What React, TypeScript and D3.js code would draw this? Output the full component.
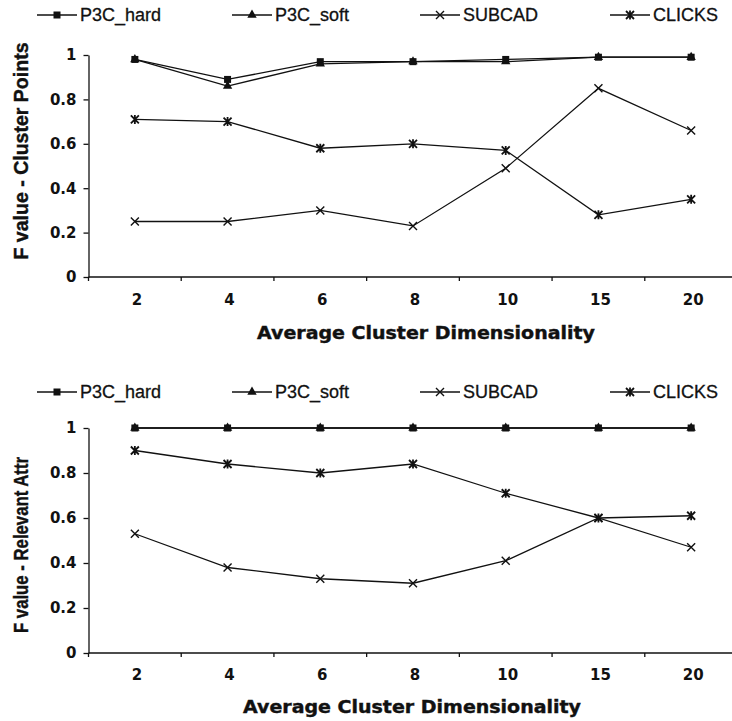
import { useEffect, useRef } from 'react';
import * as d3 from 'd3';

// x categories (average cluster dimensionality)
const categories = ['2', '4', '6', '8', '10', '15', '20'];
const yTicks = [0, 0.2, 0.4, 0.6, 0.8, 1];
const seriesNames = ['P3C_hard', 'P3C_soft', 'SUBCAD', 'CLICKS'];
const markerTypes = ['square', 'triangle', 'cross', 'asterisk'];

// F value - Cluster Points
const hardPoints = [0.98, 0.89, 0.97, 0.97, 0.98, 0.99, 0.99];
const softPoints = [0.98, 0.86, 0.96, 0.97, 0.97, 0.99, 0.99];
const subcadPoints = [0.25, 0.25, 0.3, 0.23, 0.49, 0.85, 0.66];
const clicksPoints = [0.71, 0.7, 0.58, 0.6, 0.57, 0.28, 0.35];

// F value - Relevant Attr
const hardAttr = [1, 1, 1, 1, 1, 1, 1];
const softAttr = [1, 1, 1, 1, 1, 1, 1];
const subcadAttr = [0.53, 0.38, 0.33, 0.31, 0.41, 0.6, 0.47];
const clicksAttr = [0.9, 0.84, 0.8, 0.84, 0.71, 0.6, 0.61];

const BOLD_FONT = '"DejaVu Sans", Verdana, sans-serif';
const NARROW_FONT = '"Liberation Sans Narrow", "Arial Narrow", "Liberation Sans", Arial, sans-serif';
const LEGEND_FONT = '"Liberation Sans", Arial, sans-serif';

type Panel = {
	top: number;
	bottom: number;
	legendY: number;
	yTitle: string;
	yTitleCenter: number;
	yTitleLen: number;
	xLabelY: number;
	xTitleY: number;
	xTitleX: number;
	values: number[][];
};

type G = d3.Selection<SVGGElement, unknown, null, undefined>;

function drawMarker(g: G, type: string, cx: number, cy: number) {
	const s = 4;
	if (type === 'square') {
		g.append('rect')
			.attr('x', cx - 3.5)
			.attr('y', cy - 3.5)
			.attr('width', 7)
			.attr('height', 7)
			.attr('fill', '#111');
	} else if (type === 'triangle') {
		g.append('path')
			.attr('d', d3.symbol(d3.symbolTriangle, 38)()!)
			.attr('transform', `translate(${cx},${cy})`)
			.attr('fill', '#111');
	} else {
		const p = `M${cx - s},${cy - s}L${cx + s},${cy + s}M${cx - s},${cy + s}L${cx + s},${cy - s}` +
			(type === 'asterisk' ? `M${cx},${cy - s - 0.5}L${cx},${cy + s + 0.5}` : '');
		g.append('path')
			.attr('d', p)
			.attr('stroke', '#111')
			.attr('stroke-width', type === 'asterisk' ? 1.8 : 1.4)
			.attr('fill', 'none');
	}
}

function drawPanel(root: d3.Selection<SVGSVGElement, unknown, null, undefined>, p: Panel) {
	const g = root.append('g');

	const x = d3.scaleBand<string>().domain(categories).range([88.5, 737.5]);
	const y = d3.scaleLinear().domain([0, 1]).range([p.bottom, p.top]);
	const cx = (i: number) => x(categories[i])! + x.bandwidth() / 2;

	// Legend
	const legendLineX = [37, 232, 420, 610];
	seriesNames.forEach((name, i) => {
		const lx = legendLineX[i];
		g.append('line')
			.attr('x1', lx)
			.attr('x2', lx + 40)
			.attr('y1', p.legendY)
			.attr('y2', p.legendY)
			.attr('stroke', '#111')
			.attr('stroke-width', 1.3);
		drawMarker(g, markerTypes[i], lx + 20, p.legendY);
		g.append('text')
			.attr('x', lx + 43)
			.attr('y', p.legendY + 6)
			.attr('font-family', LEGEND_FONT)
			.attr('font-size', 18)
			.attr('fill', '#111')
			.attr('stroke', '#111')
			.attr('stroke-width', 0.3)
			.text(name);
	});

	// Y axis
	const yAxis = g
		.append('g')
		.attr('transform', 'translate(88.5,0)')
		.call(
			d3
				.axisLeft(y)
				.tickValues(yTicks)
				.tickSize(5)
				.tickSizeOuter(0)
				.tickPadding(7)
				.tickFormat(d3.format('~g') as (d: d3.NumberValue) => string),
		);
	yAxis.attr('font-family', BOLD_FONT).attr('font-size', 15).attr('font-weight', 'bold');
	yAxis.selectAll('path, line').attr('stroke', '#111').attr('stroke-width', 1.3);
	yAxis.selectAll('text').attr('fill', '#111');
	g.append('line')
		.attr('x1', 88.5)
		.attr('x2', 88.5)
		.attr('y1', p.bottom)
		.attr('y2', p.bottom + 4)
		.attr('stroke', '#111')
		.attr('stroke-width', 1.3);

	// X axis
	g.append('line')
		.attr('x1', 88.5)
		.attr('x2', 737.5)
		.attr('y1', p.bottom)
		.attr('y2', p.bottom)
		.attr('stroke', '#111')
		.attr('stroke-width', 1.5);
	categories.forEach((c) => {
		const bx = x(c)! + x.bandwidth();
		g.append('line')
			.attr('x1', bx)
			.attr('x2', bx)
			.attr('y1', p.bottom)
			.attr('y2', p.bottom + 4)
			.attr('stroke', '#111')
			.attr('stroke-width', 1.3);
		g.append('text')
			.attr('x', x(c)! + x.bandwidth() / 2 + 2)
			.attr('y', p.xLabelY)
			.attr('text-anchor', 'middle')
			.attr('font-family', BOLD_FONT)
			.attr('font-size', 15)
			.attr('font-weight', 'bold')
			.attr('fill', '#111')
			.text(c);
	});

	// Axis titles
	g.append('text')
		.attr('x', p.xTitleX)
		.attr('y', p.xTitleY)
		.attr('text-anchor', 'middle')
		.attr('font-family', BOLD_FONT)
		.attr('font-size', 17)
		.attr('font-weight', 'bold')
		.attr('textLength', 338)
		.attr('lengthAdjust', 'spacingAndGlyphs')
		.attr('fill', '#111')
		.attr('stroke', '#111')
		.attr('stroke-width', 0.4)
		.text('Average Cluster Dimensionality');
	g.append('text')
		.attr('transform', `translate(28,${p.yTitleCenter}) rotate(-90)`)
		.attr('text-anchor', 'middle')
		.attr('font-family', NARROW_FONT)
		.attr('font-size', 20)
		.attr('font-weight', 'bold')
		.attr('textLength', p.yTitleLen)
		.attr('lengthAdjust', 'spacingAndGlyphs')
		.attr('fill', '#111')
		.attr('stroke', '#111')
		.attr('stroke-width', 0.4)
		.text(p.yTitle);

	// Series lines and markers (draw soft first so hard sits on top)
	const order = [1, 0, 2, 3];
	const line = d3
		.line<number>()
		.x((_, i) => cx(i))
		.y((d) => y(d));
	order.forEach((si) => {
		g.append('path')
			.datum(p.values[si])
			.attr('d', line)
			.attr('fill', 'none')
			.attr('stroke', '#111')
			.attr('stroke-width', 1.3);
	});
	order.forEach((si) => {
		p.values[si].forEach((v, i) => drawMarker(g, markerTypes[si], cx(i), y(v)));
	});
}

export default function App() {
	const svgRef = useRef<SVGSVGElement | null>(null);

	useEffect(() => {
		if (!svgRef.current) return;
		const svg = d3.select(svgRef.current);
		svg.selectAll('*').remove();

		drawPanel(svg, {
			top: 55,
			bottom: 277,
			legendY: 15,
			yTitle: 'F value - Cluster Points',
			yTitleCenter: 151,
			yTitleLen: 217,
			xLabelY: 305,
			xTitleY: 339,
			xTitleX: 426,
			values: [hardPoints, softPoints, subcadPoints, clicksPoints],
		});
		drawPanel(svg, {
			top: 428,
			bottom: 653,
			legendY: 392,
			yTitle: 'F value - Relevant Attr',
			yTitleCenter: 545,
			yTitleLen: 176,
			xLabelY: 680,
			xTitleY: 713,
			xTitleX: 412,
			values: [hardAttr, softAttr, subcadAttr, clicksAttr],
		});
	}, []);

	return (
		<svg
			ref={svgRef}
			width={732}
			height={721}
			style={{ position: 'absolute', left: 0, top: 0, background: '#fff' }}
		/>
	);
}
